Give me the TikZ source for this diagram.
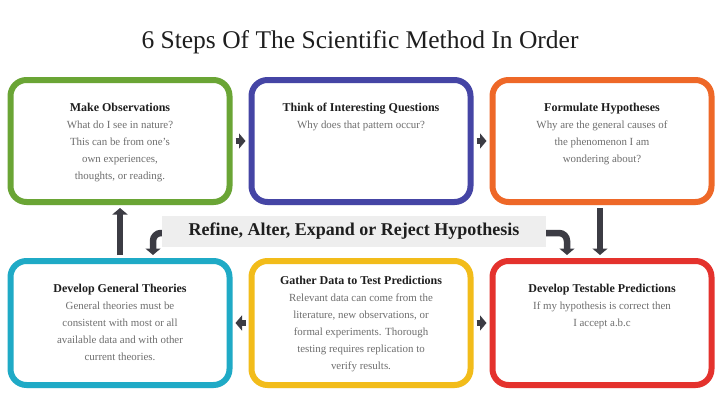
\documentclass[tikz,border=0pt]{standalone}
\usepackage{fontspec}
\setmainfont{Liberation Serif}
\usetikzlibrary{arrows.meta,shadows}
\definecolor{cgreen}{HTML}{6AA535}
\definecolor{cblue}{HTML}{4545A5}
\definecolor{corange}{HTML}{EE6828}
\definecolor{ccyan}{HTML}{1FAAC6}
\definecolor{cyellow}{HTML}{F2BC1A}
\definecolor{cred}{HTML}{E4322D}
\definecolor{carrow}{HTML}{3C3C44}
\definecolor{cband}{HTML}{EEEEEE}
\definecolor{cbody}{HTML}{6E6E6E}
\definecolor{chead}{HTML}{1E1E1E}
\newcommand\stephead[1]{{\fontsize{12}{17}\selectfont\bfseries\color{chead}#1}}
\begin{document}
\begin{tikzpicture}[x=1pt,y=-1pt,
  stepbox/.style 2 args={draw=#1, line width=6pt, rounded corners=16pt, fill=white,
    minimum width=219pt, minimum height=#2, inner sep=0pt,
    drop shadow={opacity=0.18, shadow xshift=1pt, shadow yshift=-3pt}},
  txt/.style={align=center, inner sep=0pt, anchor=north, text=cbody,
    font=\fontsize{10.9}{17}\selectfont},
  arr/.style={draw=carrow, line width=6.5pt, -{Triangle[length=6.5pt,width=15pt]}}]
\useasboundingbox (0,0) rectangle (720,404);
\fill[white] (0,0) rectangle (720,404);

\node[text=chead, font=\fontsize{25.5}{30}\selectfont] (title) at (360,42) {6 Steps Of The Scientific Method In Order};

% boxes
\node[stepbox={cgreen}{122pt}] (g) at (120,141) {};
\node[stepbox={cblue}{122pt}] (b) at (361,141) {};
\node[stepbox={corange}{122pt}] (o) at (602,141) {};
\node[stepbox={ccyan}{124pt}] (c) at (120,323) {};
\node[stepbox={cyellow}{124pt}] (y) at (361,323) {};
\node[stepbox={cred}{124pt}] (r) at (602,323) {};

% band
\node[fill=cband, minimum width=384pt, minimum height=31pt, inner sep=0pt,
  text=chead, font=\fontsize{18}{21}\selectfont\bfseries] (rf) at (354,231) {Refine, Alter, Expand or Reject Hypothesis};

% texts
\node[txt] (tg) at (120,102.5) {\stephead{Make Observations}\\What do I see in nature?\\This can be from one's\\own experiences,\\thoughts, or reading.};
\node[txt] (tb) at (361,102.5) {\stephead{Think of Interesting Questions}\\Why does that pattern occur?};
\node[txt] (to) at (602,102.5) {\stephead{Formulate Hypotheses}\\Why are the general causes of\\the phenomenon I am\\wondering about?};
\node[txt] (tc) at (120,283.5) {\stephead{Develop General Theories}\\General theories must be\\consistent with most or all\\available data and with other\\current theories.};
\node[txt] (ty) at (361,275.5) {\stephead{Gather Data to Test Predictions}\\Relevant data can come from the\\literature, new observations, or\\formal experiments. Thorough\\testing requires replication to\\verify results.};
\node[txt] (tr) at (602,283.5) {\stephead{Develop Testable Predictions}\\If my hypothesis is correct then\\I accept a.b.c};

% connectors
\draw[arr, shorten <=3pt, shorten >=3pt] (g.east) -- (b.west);
\draw[arr, shorten <=3pt, shorten >=3pt] (b.east) -- (o.west);
\draw[arr, shorten <=3pt, shorten >=3pt] ([xshift=-2pt]o.south) -- ([xshift=-2pt]o.south |- r.north);
\draw[arr, shorten <=3pt, shorten >=3pt] (y.west) -- (c.east);
\draw[arr, shorten <=3pt, shorten >=3pt] (y.east) -- (r.west);
\draw[arr, shorten <=3pt, shorten >=3pt] (c.north) -- (g.south);
\draw[arr, rounded corners=8pt, shorten >=3pt] ([yshift=-2pt]rf.west) -| ([xshift=33pt]c.north);
\draw[arr, rounded corners=8pt, shorten >=3pt] ([yshift=-2pt]rf.east) -| ([xshift=-35pt]r.north);
\end{tikzpicture}
\end{document}
